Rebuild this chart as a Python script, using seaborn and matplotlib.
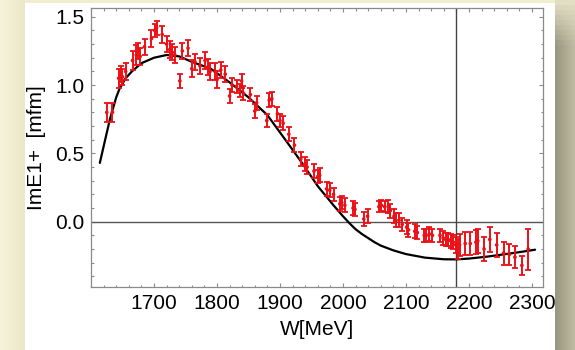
import numpy as np
import pandas as pd
import matplotlib
matplotlib.use("Agg")
import matplotlib.pyplot as plt
from matplotlib.patches import Rectangle
from matplotlib.ticker import MultipleLocator
import seaborn as sns

# Measured multipole points: energy W [MeV], Im E1+ [mfm], uncertainty
w_data = [1625, 1634, 1644, 1647, 1650, 1655, 1666, 1672, 1675, 1678,
          1685, 1696, 1701, 1704, 1713, 1720, 1725, 1729, 1733, 1741,
          1745, 1754, 1760, 1765, 1773, 1781, 1785, 1789, 1797, 1800,
          1806, 1813, 1820, 1824, 1831, 1836, 1839, 1842, 1853, 1860,
          1863, 1879, 1883, 1887, 1896, 1900, 1905, 1914, 1923, 1933,
          1939, 1943, 1954, 1960, 1963, 1974, 1979, 1985, 1995, 1998,
          2003, 2016, 2019, 2033, 2039, 2057, 2061, 2066, 2072, 2075,
          2081, 2084, 2089, 2094, 2101, 2104, 2114, 2118, 2129, 2132,
          2137, 2142, 2154, 2159, 2163, 2167, 2171, 2175, 2179, 2182,
          2185, 2194, 2202, 2211, 2214, 2224, 2233, 2244, 2255, 2264,
          2273, 2284, 2294]
im_e1p = [0.80, 0.80, 1.05, 1.08, 1.06, 1.10, 1.18, 1.22, 1.25, 1.21,
          1.28, 1.34, 1.40, 1.42, 1.37, 1.30, 1.26, 1.24, 1.22, 1.03,
          1.25, 1.27, 1.12, 1.17, 1.14, 1.18, 1.13, 1.10, 1.10, 1.04,
          1.11, 1.08, 0.92, 1.00, 0.99, 0.96, 1.03, 0.94, 0.93, 0.81,
          0.87, 0.74, 0.89, 0.90, 0.79, 0.74, 0.72, 0.64, 0.56, 0.46,
          0.42, 0.40, 0.37, 0.33, 0.34, 0.24, 0.23, 0.20, 0.13, 0.14,
          0.12, 0.10, 0.09, 0.02, 0.04, 0.11, 0.12, 0.11, 0.11, 0.08,
          0.04, 0.01, 0.01, -0.02, -0.04, -0.06, -0.07, -0.08, -0.10, -0.10,
          -0.09, -0.10, -0.10, -0.12, -0.13, -0.13, -0.14, -0.15, -0.17, -0.20,
          -0.17, -0.16, -0.16, -0.15, -0.14, -0.20, -0.13, -0.17, -0.23, -0.24,
          -0.26, -0.32, -0.20]
im_err = [0.07, 0.07, 0.07, 0.06, 0.06, 0.06, 0.07, 0.07, 0.06, 0.06,
          0.06, 0.06, 0.05, 0.05, 0.06, 0.06, 0.06, 0.06, 0.06, 0.05,
          0.06, 0.06, 0.06, 0.06, 0.06, 0.06, 0.06, 0.06, 0.06, 0.06,
          0.06, 0.06, 0.05, 0.05, 0.05, 0.05, 0.05, 0.05, 0.05, 0.05,
          0.05, 0.05, 0.05, 0.05, 0.05, 0.05, 0.05, 0.05, 0.05, 0.05,
          0.05, 0.05, 0.05, 0.05, 0.05, 0.05, 0.05, 0.05, 0.05, 0.05,
          0.05, 0.05, 0.05, 0.05, 0.05, 0.04, 0.04, 0.04, 0.05, 0.05,
          0.05, 0.05, 0.05, 0.05, 0.05, 0.05, 0.05, 0.05, 0.05, 0.05,
          0.05, 0.05, 0.05, 0.05, 0.05, 0.05, 0.05, 0.05, 0.06, 0.07,
          0.08, 0.085, 0.085, 0.09, 0.09, 0.085, 0.09, 0.085, 0.085, 0.08,
          0.08, 0.07, 0.15]

# Model curve
w_model = [1614, 1620, 1625, 1630, 1635, 1640, 1645, 1650, 1655, 1665,
           1680, 1700, 1720, 1740, 1760, 1790, 1820, 1850, 1880, 1910,
           1935, 1960, 1985, 2000, 2010, 2020, 2030, 2040, 2050, 2060,
           2080, 2100, 2130, 2160, 2180, 2200, 2230, 2260, 2280, 2305]
y_model = [0.43, 0.55, 0.65, 0.75, 0.83, 0.91, 0.97, 1.01, 1.05, 1.10,
           1.16, 1.20, 1.22, 1.21, 1.17, 1.12, 1.02, 0.91, 0.78, 0.59,
           0.43, 0.26, 0.12, 0.04, -0.01, -0.055, -0.09, -0.12, -0.15, -0.175,
           -0.21, -0.237, -0.263, -0.275, -0.276, -0.27, -0.255, -0.236, -0.223, -0.205]

x_ticks = [1700, 1800, 1900, 2000, 2100, 2200, 2300]
y_ticks = [0.0, 0.5, 1.0, 1.5]
w_marker = 2180

data = pd.DataFrame({"W": w_data, "ImE1": im_e1p, "err": im_err})
model = pd.DataFrame({"W": w_model, "ImE1": y_model})

sns.set_style("ticks")
plt.rcParams["font.family"] = ["Liberation Sans", "DejaVu Sans"]
plt.rcParams["text.color"] = "black"
plt.rcParams["axes.labelcolor"] = "black"

W_PX, H_PX = 575, 350
fig = plt.figure(figsize=(W_PX / 100, H_PX / 100), dpi=100)
fig.patch.set_facecolor("#f4f0d4")

# Page backdrop: pale band on the left, white sheet, shaded strip on the right
bg = fig.add_axes([0, 0, 1, 1], zorder=-5)
bg.axis("off")
left_band = np.linspace(0, 1, 25)[None, :, None]
left_img = (1 - left_band) * np.array([247, 243, 218]) + left_band * np.array([236, 231, 200])
bg.imshow(np.repeat(left_img, 2, axis=0) / 255, extent=(0, 25, H_PX, 0), aspect="auto")
bg.add_patch(Rectangle((25, 0), 530, 3, color="#f1edcf", lw=0))
bg.add_patch(Rectangle((25, 3), 530, H_PX - 3, color="white", lw=0))
vy = np.linspace(0, 1, 70)[:, None, None]
hx = np.linspace(0, 1, 20)[None, :, None]
top_col = np.array([226, 222, 196])
mid_dark = np.array([152, 150, 128])
mid_light = np.array([190, 187, 162])
fade = np.clip(vy * 8, 0, 1)
body = (1 - hx) * mid_dark + hx * mid_light
strip = (1 - fade) * top_col + fade * body
bg.imshow(strip / 255, extent=(555, 575, H_PX, 0), aspect="auto")
bg.set_xlim(0, W_PX)
bg.set_ylim(H_PX, 0)

ax = fig.add_axes([91 / W_PX, 1 - 287 / H_PX, (543.3 - 91) / W_PX, (287 - 8) / H_PX])
ax.set_facecolor("white")

ax.axhline(0, color="#555555", lw=1.0, zorder=1)
ax.axvline(w_marker, color="#444444", lw=1.0, zorder=1)

sns.lineplot(data=model, x="W", y="ImE1", color="black", lw=1.6,
             estimator=None, sort=False, ax=ax, zorder=3)
ax.errorbar(data["W"], data["ImE1"], yerr=data["err"], fmt="none",
            ecolor="#ec1016", elinewidth=1.4, capsize=2.0, capthick=1.3, zorder=4)
sns.scatterplot(data=data, x="W", y="ImE1", color="#ec1016", s=7,
                edgecolor="none", ax=ax, zorder=5)

ax.set_xlim(1600, 2318)
ax.set_ylim(-0.478, 1.564)
ax.set_xticks(x_ticks)
ax.set_yticks(y_ticks)
ax.set_yticklabels([f"{v:.1f}" for v in y_ticks])
ax.xaxis.set_minor_locator(MultipleLocator(20))
ax.yaxis.set_minor_locator(MultipleLocator(0.1))

spine_col = "#8a8a8a"
for s in ax.spines.values():
    s.set_color(spine_col)
    s.set_linewidth(0.9)
ax.tick_params(which="both", direction="in", top=True, right=True,
               color=spine_col, width=0.8, labelsize=15, labelcolor="black")
ax.tick_params(which="major", length=3.2, pad=5)
ax.tick_params(which="minor", length=1.8)

ax.set_xlabel("W[MeV]", fontsize=15, labelpad=5, color="black")
ax.set_ylabel("ImE1+  [mfm]", fontsize=15, labelpad=6, color="black")

fig.savefig("out.png", dpi=100, facecolor=fig.get_facecolor())
